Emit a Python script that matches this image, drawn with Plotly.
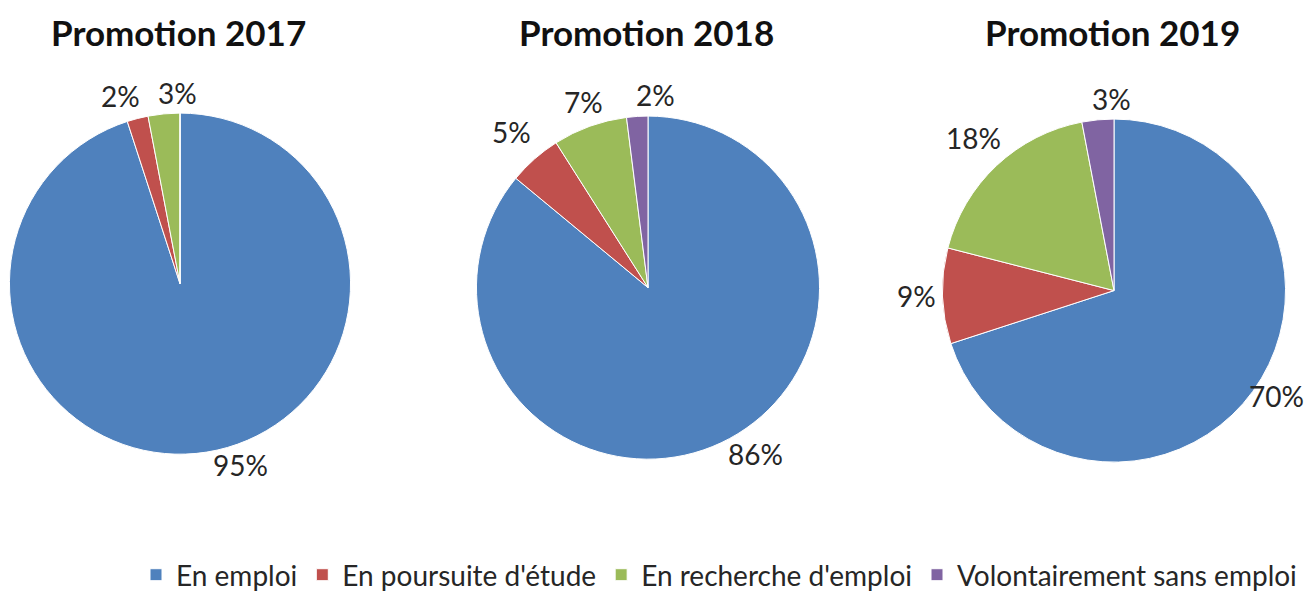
import math
import plotly.graph_objects as go

categories = ["En emploi", "En poursuite d'étude", "En recherche d'emploi", "Volontairement sans emploi"]
colors = ["#4F81BD", "#C0504D", "#9BBB59", "#8064A2"]
promos = ["Promotion 2017", "Promotion 2018", "Promotion 2019"]
values_2017 = [95, 2, 3, 0]
values_2018 = [86, 5, 7, 2]
values_2019 = [70, 9, 18, 3]
all_values = [values_2017, values_2018, values_2019]

W, H = 1314, 592
OFF = 8  # page body margin
centers_x = [172, 648 - OFF, 1114 - OFF]
centers_y = [283 - 5, 287 - 5, 290 - 5]
radii = [172, 173, 173]
LABEL_FS = 28
MIN_GAP = 20
RIGHT_LIMIT = W - OFF - 11

fig = go.Figure()
for i, (promo, vals) in enumerate(zip(promos, all_values)):
    cx, cy, R = centers_x[i], centers_y[i], radii[i]
    dom_x = [max(0, (cx - R) / W), min(1, (cx + R) / W)]
    dom_y = [max(0, 1 - (cy + R) / H), min(1, 1 - (cy - R) / H)]
    dcx = (dom_x[0] + dom_x[1]) / 2 * W
    fig.add_trace(go.Pie(
        labels=categories, values=vals,
        textinfo="none",
        marker=dict(colors=colors, line=dict(color="white", width=1)),
        sort=False, direction="clockwise", rotation=0,
        domain=dict(x=dom_x, y=dom_y), name=promo,
        showlegend=(i == 0), hoverinfo="label+percent",
    ))
    fig.add_annotation(
        x=(cx - 2) / W, y=1 - (30 - 6) / H, xref="paper", yref="paper",
        text=f"<b>{promo}</b>", showarrow=False,
        font=dict(family="Lato", size=35, color="#111111"),
        xanchor="center", yanchor="middle",
    )
    # percentage labels, placed outside each slice from its value
    total = sum(vals)
    r_draw = R - 1.5
    cum = 0
    labels = []
    for v in vals:
        if v <= 0:
            cum += v
            continue
        mid = (cum + v / 2) / total * 2 * math.pi
        cum += v
        s, c = math.sin(mid), math.cos(mid)
        phi = math.degrees(mid)
        if phi > 180:
            phi -= 360
        nd = len(str(v))
        w = LABEL_FS * (0.58 * nd + 0.75)
        hb = LABEL_FS * 1.07
        ex = dcx + r_draw * s
        ey = cy - r_draw * c
        if c >= 0:  # upper half
            t = (phi + 10) / 6 if phi < 0 else (phi - 10) / 6
            t = max(-1.0, min(1.0, t))
            if -30 < phi < -16:
                t *= 0.3
            lx = ex + (18 if t > 0 else 23) * t
            ly = ey - 22 - 10 * abs(s)
        else:  # lower half
            lx = ex + math.copysign(w / 2 + hb / 4, s)
            ly = ey + (hb / 2) * c * c
        lx = min(lx, RIGHT_LIMIT - w / 2)
        labels.append(dict(text=f"{v}%", x=lx, y=ly, w=w, h=hb, c=c))
    # resolve overlaps in the upper half: push the earlier label left
    for j in range(len(labels) - 2, -1, -1):
        a, b = labels[j], labels[j + 1]
        if a["c"] >= 0 and b["c"] >= 0 and abs(a["y"] - b["y"]) < (a["h"] + b["h"]) / 2:
            need = (b["x"] - b["w"] / 2) - MIN_GAP
            if a["x"] + a["w"] / 2 > need:
                a["x"] = need - a["w"] / 2
    for lab in labels:
        fig.add_annotation(
            x=lab["x"] / W, y=1 - lab["y"] / H, xref="paper", yref="paper",
            text=lab["text"], showarrow=False,
            font=dict(family="Lato", size=LABEL_FS, color="#262626"),
            xanchor="center", yanchor="middle",
        )

fig.update_layout(
    width=W, height=H,
    margin=dict(l=0, r=0, t=0, b=0),
    paper_bgcolor="white", plot_bgcolor="white",
    legend=dict(orientation="h", x=(724 - OFF - 5) / W, xanchor="center", y=1 - (578 - 6) / H, yanchor="middle",
                font=dict(family="Lato", size=28, color="#262626"),
                itemwidth=30, traceorder="normal"),
)
fig.write_html("out.html")
